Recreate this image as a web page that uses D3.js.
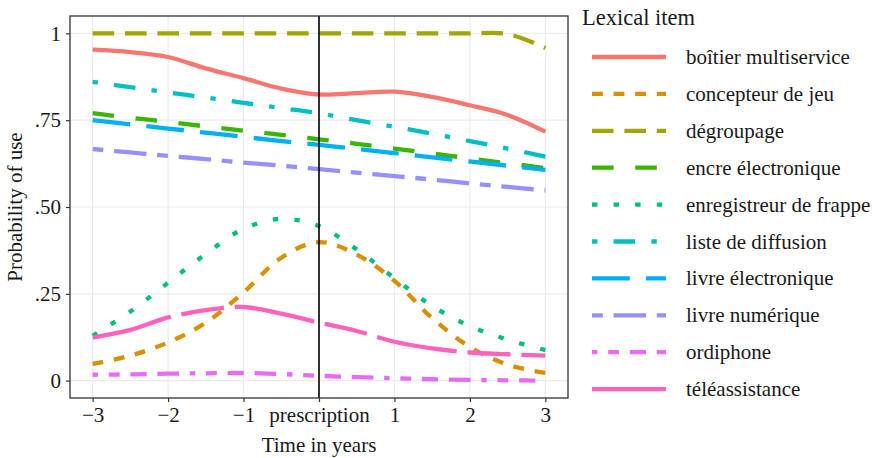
<!DOCTYPE html>
<html>
<head>
<meta charset="utf-8">
<script src="https://cdn.jsdelivr.net/npm/d3@7"></script>
<style>
  body { margin: 0; background: #fff; }
  svg text { font-family: "Liberation Serif", "Times New Roman", serif; fill: #1a1a1a; }
</style>
</head>
<body>
<div id="chart"></div>
<script>
// time points (years relative to prescription)
const years = [-3, -2.5, -2, -1.5, -1, -0.5, 0, 0.5, 1, 1.5, 2, 2.5, 3];

const boitier      = [0.953, 0.946, 0.932, 0.899, 0.871, 0.841, 0.824, 0.828, 0.832, 0.817, 0.793, 0.765, 0.717];
const concepteur   = [0.048, 0.072, 0.110, 0.167, 0.254, 0.354, 0.399, 0.363, 0.287, 0.180, 0.097, 0.046, 0.022];
const degroupage   = [1, 1, 1, 1, 1, 1, 1, 1, 1, 1, 1, 0.998, 0.958];
const encre        = [0.770, 0.757, 0.745, 0.732, 0.720, 0.708, 0.695, 0.682, 0.668, 0.654, 0.640, 0.626, 0.612];
const enregistreur = [0.129, 0.199, 0.282, 0.365, 0.437, 0.466, 0.445, 0.378, 0.295, 0.215, 0.157, 0.118, 0.088];
const liste        = [0.860, 0.845, 0.830, 0.815, 0.800, 0.785, 0.770, 0.750, 0.731, 0.711, 0.690, 0.668, 0.645];
const livreElec    = [0.750, 0.738, 0.726, 0.714, 0.702, 0.690, 0.679, 0.667, 0.655, 0.643, 0.631, 0.619, 0.607];
const livreNum     = [0.667, 0.657, 0.647, 0.638, 0.628, 0.619, 0.609, 0.599, 0.589, 0.579, 0.568, 0.558, 0.548];
const ordiphone    = [0.017, 0.018, 0.020, 0.021, 0.022, 0.019, 0.014, 0.010, 0.007, 0.004, 0.002, 0.001, 0.000];
const teleassist   = [0.124, 0.146, 0.182, 0.203, 0.212, 0.193, 0.167, 0.143, 0.112, 0.093, 0.081, 0.076, 0.072];

const itemNames = ['boîtier multiservice', 'concepteur de jeu', 'dégroupage', 'encre électronique',
  'enregistreur de frappe', 'liste de diffusion', 'livre électronique', 'livre numérique',
  'ordiphone', 'téléassistance'];
const itemValues = [boitier, concepteur, degroupage, encre, enregistreur, liste, livreElec, livreNum, ordiphone, teleassist];

const xTicks = [-3, -2, -1, 0, 1, 2, 3];
const xTickLabels = ['\u22123', '\u22122', '\u22121', 'prescription', '1', '2', '3'];
const yTicks = [0, 0.25, 0.5, 0.75, 1];
const yTickLabels = ['0', '.25', '.50', '.75', '1'];

const colors = ['#F8766D', '#D89000', '#A3A500', '#39B600', '#00BF7D', '#00BFC4', '#00B0F6', '#9590FF', '#E76BF3', '#FF62BC'];
// ggplot linetype codes, hex digits are units of line width
const linetypes = ['solid', '22', '42', '44', '13', '1343', '73', '2262', '12223242', 'F282'];

const W = 876, H = 458;
const panel = { left: 70, top: 16, right: 568, bottom: 398 };
const lw = 4.3, unit = 5.4;

function dash(lt) {
  if (lt === 'solid') return null;
  return lt.split('').map(c => parseInt(c, 16) * unit).join(',');
}

const svg = d3.select('#chart').append('svg').attr('width', W).attr('height', H);

const x = d3.scaleLinear().domain([-3.3, 3.3]).range([panel.left, panel.right]);
const y = d3.scaleLinear().domain([-0.05, 1.05]).range([panel.bottom, panel.top]);

// grid
const grid = svg.append('g');
grid.selectAll('.gx').data(xTicks).enter().append('line')
  .attr('x1', d => x(d)).attr('x2', d => x(d))
  .attr('y1', panel.top).attr('y2', panel.bottom)
  .attr('stroke', '#ebebeb').attr('stroke-width', 1.2);
grid.selectAll('.gy').data(yTicks).enter().append('line')
  .attr('y1', d => y(d)).attr('y2', d => y(d))
  .attr('x1', panel.left).attr('x2', panel.right)
  .attr('stroke', '#ebebeb').attr('stroke-width', 1.2);

svg.append('clipPath').attr('id', 'clip').append('rect')
  .attr('x', panel.left).attr('y', panel.top)
  .attr('width', panel.right - panel.left).attr('height', panel.bottom - panel.top);

const line = d3.line()
  .x((d, i) => x(years[i]))
  .y(d => y(d))
  .curve(d3.curveCatmullRom.alpha(0.5));

const linesG = svg.append('g').attr('clip-path', 'url(#clip)');
linesG.selectAll('path').data(itemValues).enter().append('path')
  .attr('d', d => line(d))
  .attr('fill', 'none')
  .attr('stroke', (d, i) => colors[i])
  .attr('stroke-width', lw)
  .attr('stroke-dasharray', (d, i) => dash(linetypes[i]));

// prescription line
svg.append('line')
  .attr('x1', x(0)).attr('x2', x(0))
  .attr('y1', panel.top).attr('y2', panel.bottom)
  .attr('stroke', '#000').attr('stroke-width', 1.6);

// panel border
svg.append('rect')
  .attr('x', panel.left).attr('y', panel.top)
  .attr('width', panel.right - panel.left).attr('height', panel.bottom - panel.top)
  .attr('fill', 'none').attr('stroke', '#333').attr('stroke-width', 1.3);

// axes
const xAxis = d3.axisBottom(x).tickValues(xTicks).tickSize(4).tickPadding(5)
  .tickFormat((d, i) => xTickLabels[i]);
const xAxisG = svg.append('g').attr('transform', `translate(0,${panel.bottom})`).call(xAxis);
const yAxis = d3.axisLeft(y).tickValues(yTicks).tickSize(4).tickPadding(5)
  .tickFormat((d, i) => yTickLabels[i]);
const yAxisG = svg.append('g').attr('transform', `translate(${panel.left},0)`).call(yAxis);

[xAxisG, yAxisG].forEach(g => {
  g.select('.domain').remove();
  g.selectAll('.tick line').attr('stroke', '#333').attr('stroke-width', 1.2);
  g.selectAll('.tick text').attr('font-size', 21).attr('fill', '#1a1a1a')
    .style('font-family', '"Liberation Serif", serif');
});

svg.append('text')
  .attr('x', (panel.left + panel.right) / 2).attr('y', 452)
  .attr('text-anchor', 'middle').attr('font-size', 21)
  .text('Time in years');

svg.append('text')
  .attr('transform', `translate(22,${(panel.top + panel.bottom) / 2}) rotate(-90)`)
  .attr('text-anchor', 'middle').attr('font-size', 21)
  .text('Probability of use');

// legend
const legend = svg.append('g');
legend.append('text').attr('x', 582).attr('y', 25).attr('font-size', 22.5).text('Lexical item');

const rows = legend.selectAll('.row').data(itemNames).enter().append('g')
  .attr('transform', (d, i) => `translate(0,${57 + i * 36.9})`);
rows.append('line')
  .attr('x1', 592).attr('x2', 666).attr('y1', 0).attr('y2', 0)
  .attr('stroke', (d, i) => colors[i])
  .attr('stroke-width', lw)
  .attr('stroke-dasharray', (d, i) => dash(linetypes[i]));
rows.append('text')
  .attr('x', 686).attr('y', 7)
  .attr('font-size', 21)
  .text(d => d);
</script>
</body>
</html>
